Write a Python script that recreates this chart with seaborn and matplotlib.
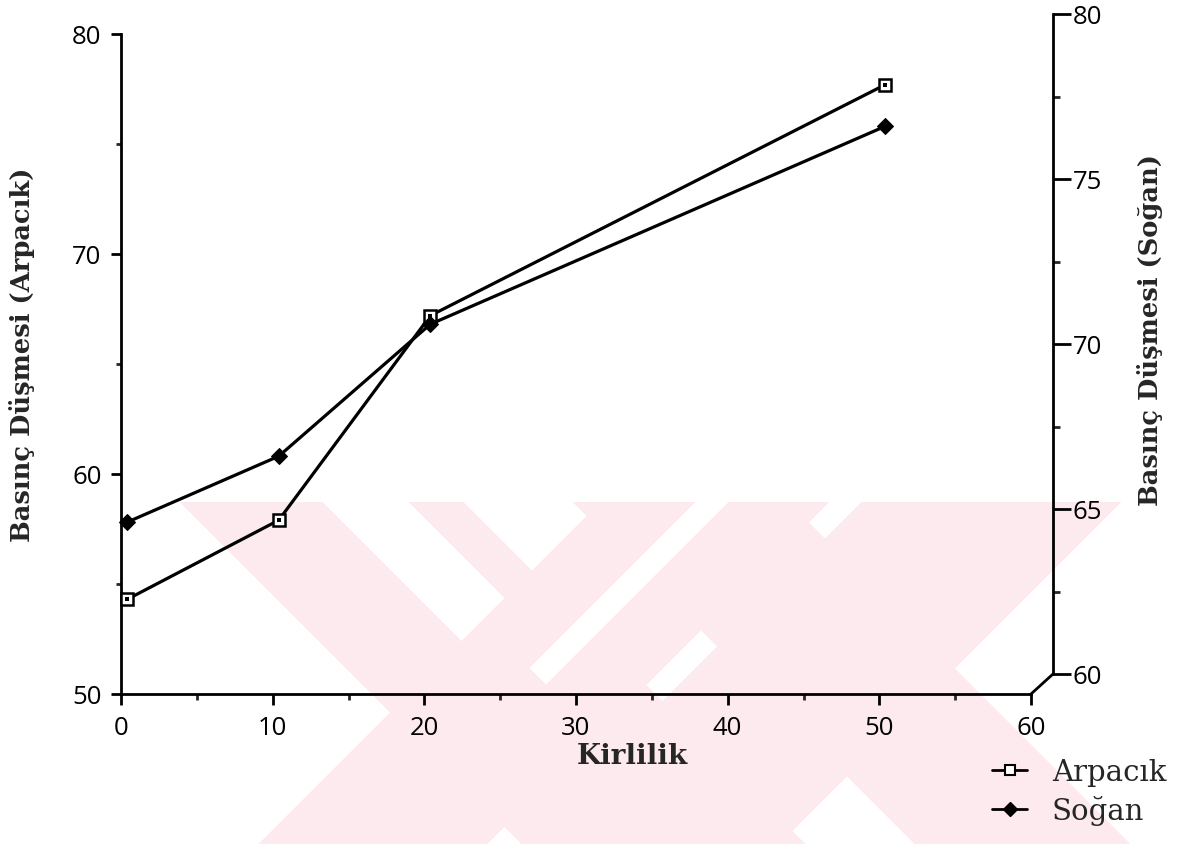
import numpy as np
import pandas as pd
import matplotlib
matplotlib.use("Agg")
import matplotlib.pyplot as plt
from matplotlib.lines import Line2D
from matplotlib.ticker import MultipleLocator
import seaborn as sns

# Measured values
kirlilik = [0.4, 10.4, 20.4, 50.4]
arpacik = [54.3, 57.9, 67.2, 77.7]
sogan = [64.6, 66.6, 70.6, 76.6]

x_ticks = [0, 10, 20, 30, 40, 50, 60]
left_ticks = [50, 60, 70, 80]
right_ticks = [60, 65, 70, 75, 80]

df = pd.DataFrame({"Kirlilik": kirlilik, "Arpacık": arpacik, "Soğan": sogan})

sns.set_style("ticks")
plt.rcParams["font.family"] = ["Open Sans", "DejaVu Sans"]

W, H = 1179, 845
fig = plt.figure(figsize=(W / 100, H / 100), dpi=100)
fig.patch.set_facecolor("white")

# Background stamp: pale pink diagonal bands in the lower part of the page
yy, xx = np.mgrid[0:H, 0:W]
d = xx - yy
s = xx + yy
band = np.zeros((H, W), dtype=bool)
band |= (d >= -323) & (d <= -40)
band |= (s >= 1103) & (s <= 1331)
band |= (d >= 70) & (d <= 285)
band |= (s >= 1364) & (s <= 1623)
gap = np.zeros((H, W), dtype=bool)
gap |= (d > -181) & (d < -94) & (s < 1103)
gap |= (s > 1197) & (s < 1231) & (d > -140)
mask = band & ~gap & (yy >= 503)
stamp = np.zeros((H, W, 4))
stamp[..., 0] = 253 / 255
stamp[..., 1] = 234 / 255
stamp[..., 2] = 238 / 255
stamp[..., 3] = mask.astype(float)
fig.figimage(stamp, xo=0, yo=0, origin="upper", zorder=-5)

# Main axes (Arpacık, left scale)
ax = fig.add_axes([121 / W, 1 - 695 / H, 910 / W, 660 / H])
ax.patch.set_alpha(0)
# Second axes (Soğan, right scale), raised a little and offset to the right
ax2 = fig.add_axes([121 / W, 1 - 675 / H, 910 / W, 660 / H])
ax2.patch.set_alpha(0)

line_kw = dict(color="black", linewidth=2.3, sort=False, legend=False)

sns.lineplot(data=df, x="Kirlilik", y="Arpacık", ax=ax, marker="s", markersize=9,
             markerfacecolor="white", markeredgecolor="black", markeredgewidth=1.8,
             clip_on=False, zorder=3, **line_kw)
sns.scatterplot(data=df, x="Kirlilik", y="Arpacık", ax=ax, marker="s", s=5,
                color="black", linewidth=0, zorder=4, legend=False)
sns.lineplot(data=df, x="Kirlilik", y="Soğan", ax=ax2, marker="D", markersize=8,
             markerfacecolor="black", markeredgecolor="black",
             clip_on=False, zorder=3, **line_kw)

for a in (ax, ax2):
    a.set_xlim(0, 60)
ax.set_ylim(50, 80)
ax2.set_ylim(60, 80)

# Left / bottom axis styling
for side in ("top", "right"):
    ax.spines[side].set_visible(False)
for side in ("left", "bottom"):
    ax.spines[side].set_linewidth(2.0)
    ax.spines[side].set_color("black")
ax.set_xticks(x_ticks)
ax.set_yticks(left_ticks)
ax.xaxis.set_minor_locator(MultipleLocator(5))
ax.yaxis.set_minor_locator(MultipleLocator(5))
ax.tick_params(axis="both", which="major", direction="out", width=2, colors="black",
               labelsize=18.5)
ax.tick_params(axis="y", which="major", length=7, pad=7)
ax.tick_params(axis="y", which="minor", direction="out", length=3.5, width=2)
ax.tick_params(axis="x", which="major", length=8, pad=7)
ax.tick_params(axis="x", which="minor", direction="out", length=4, width=2)

# Right axis styling
for side in ("top", "left", "bottom"):
    ax2.spines[side].set_visible(False)
ax2.spines["right"].set_visible(True)
ax2.spines["right"].set_linewidth(2.0)
ax2.spines["right"].set_color("black")
ax2.spines["right"].set_position(("outward", 22 * 72 / 100))
ax2.xaxis.set_visible(False)
ax2.yaxis.tick_right()
ax2.yaxis.set_label_position("right")
ax2.set_yticks(right_ticks)
ax2.yaxis.set_minor_locator(MultipleLocator(2.5))
ax2.tick_params(axis="y", which="major", direction="out", length=13, width=2,
                colors="black", labelsize=18.5, pad=1)
ax2.tick_params(axis="y", which="minor", direction="out", length=5, width=2)

# Diagonal joint between the bottom axis and the raised right axis
fig.add_artist(Line2D([1031 / W, 1053 / W], [1 - 695 / H, 1 - 675 / H],
                      transform=fig.transFigure, color="black", linewidth=2.0))

label_font = dict(family="DejaVu Serif", weight="bold", size=18.5)
ax.set_xlabel("Kirlilik", family="DejaVu Serif", weight="bold", size=20)
ax.xaxis.set_label_coords((632 - 121) / 910, -(757 - 695) / 660)
ax.xaxis.label.set_va("center")
ax.set_ylabel("Basınç Düşmesi (Arpacık)", **label_font)
ax.yaxis.set_label_coords((22 - 121) / 910, (695 - 355) / 660)
ax.yaxis.label.set_va("center")
ax2.set_ylabel("Basınç Düşmesi (Soğan)", rotation=90, **label_font)
ax2.yaxis.set_label_coords((1150 - 121) / 910, (675 - 330) / 660)
ax2.yaxis.label.set_va("center")

handles = [
    Line2D([], [], color="black", linewidth=2.0, marker="s", markersize=7,
           markerfacecolor="white", markeredgecolor="black", markeredgewidth=1.5),
    Line2D([], [], color="black", linewidth=2.0, marker="D", markersize=7,
           markerfacecolor="black"),
]
fig.legend(handles, ["Arpacık", "Soğan"], loc="upper left",
           bbox_to_anchor=(992 / W, 1 - 759 / H), frameon=False,
           prop=dict(family="DejaVu Serif", size=21), handlelength=1.2,
           handletextpad=0.85, labelspacing=0.3, borderpad=0, borderaxespad=0)

fig.savefig("out.png", dpi=100, facecolor="white")
